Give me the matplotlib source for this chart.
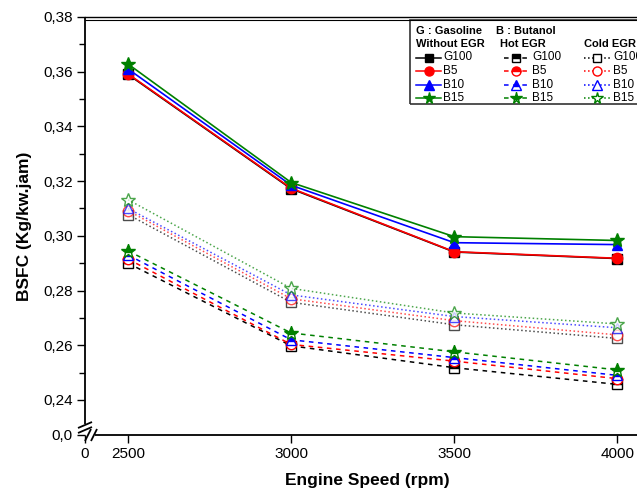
import numpy as np
import matplotlib
matplotlib.use("Agg")
import matplotlib.pyplot as plt
from matplotlib.lines import Line2D
from matplotlib.patches import Rectangle

plt.rcParams['font.family'] = ['Liberation Sans', 'DejaVu Sans']

# engine speed (rpm) and BSFC (kg/kW.h) for each fuel / EGR mode
rpm = [2500, 3000, 3500, 4000]
fuels = ['G100', 'B5', 'B10', 'B15']

no_egr = {
    'G100': [0.3590, 0.3172, 0.2941, 0.2917],
    'B5':   [0.3592, 0.3174, 0.2942, 0.2918],
    'B10':  [0.3610, 0.3185, 0.2975, 0.2968],
    'B15':  [0.3628, 0.3195, 0.2997, 0.2983],
}
hot_egr = {
    'G100': [0.2900, 0.2598, 0.2518, 0.2457],
    'B5':   [0.2915, 0.2603, 0.2542, 0.2478],
    'B10':  [0.2930, 0.2620, 0.2555, 0.2490],
    'B15':  [0.2945, 0.2645, 0.2576, 0.2510],
}
cold_egr = {
    'G100': [0.3078, 0.2757, 0.2675, 0.2625],
    'B5':   [0.3092, 0.2770, 0.2690, 0.2638],
    'B10':  [0.3100, 0.2784, 0.2705, 0.2664],
    'B15':  [0.3132, 0.2808, 0.2718, 0.2678],
}

colors = {'G100': 'black', 'B5': '#ff0000', 'B10': '#0000ff', 'B15': '#008000'}
markers = {'G100': 's', 'B5': 'o', 'B10': '^', 'B15': '*'}
msize = {'G100': 6.5, 'B5': 7.5, 'B10': 7.5, 'B15': 10}

xticks = [0, 2500, 3000, 3500, 4000]
xticklabels = ['0', '2500', '3000', '3500', '4000']
yticks = [0.0, 0.24, 0.26, 0.28, 0.30, 0.32, 0.34, 0.36, 0.38]
yticklabels = ['0,0', '0,24', '0,26', '0,28', '0,30', '0,32', '0,34', '0,36', '0,38']

# broken axes: squeeze 0..2500 rpm and 0..0.24 into short stubs
XB, KX = 2500.0, 132.0 / 2500.0
YB, KY = 0.24, 0.0128 / 0.24


def fx(x):
    x = np.asarray(x, dtype=float)
    return np.where(x >= XB, x, XB - (XB - x) * KX)


def ix(x):
    x = np.asarray(x, dtype=float)
    return np.where(x >= XB, x, XB - (XB - x) / KX)


def fy(y):
    y = np.asarray(y, dtype=float)
    return np.where(y >= YB, y, YB - (YB - y) * KY)


def iy(y):
    y = np.asarray(y, dtype=float)
    return np.where(y >= YB, y, YB - (YB - y) / KY)


W, H = 637, 493
fig = plt.figure(figsize=(W / 100, H / 100), dpi=100)


def px(x, y):
    return x / W, 1 - y / H


L, T, B, R = 85, 17, 435, 650
ax = fig.add_axes([L / W, 1 - B / H, (R - L) / W, (B - T) / H])
ax.set_xscale('function', functions=(fx, ix))
ax.set_yscale('function', functions=(fy, iy))

for f in fuels:
    ax.plot(rpm, cold_egr[f], ls=':', lw=1.1, color=colors[f], alpha=0.7,
            marker=markers[f], ms=msize[f], mfc='white', mec=colors[f], mew=1)
for f in fuels:
    ax.plot(rpm, hot_egr[f], ls=(0, (3, 3)), lw=1.1, color=colors[f],
            marker=markers[f], ms=msize[f], fillstyle='top', mfcalt='white',
            mec=colors[f], mew=1)
for f in fuels:
    ax.plot(rpm, no_egr[f], ls='-', lw=1.2, color=colors[f],
            marker=markers[f], ms=msize[f], mec=colors[f])

ax.set_xlim(0, 4100)
ax.set_ylim(0.0, 0.38)
ax.set_xticks(xticks)
ax.set_xticklabels(xticklabels)
ax.set_yticks(yticks)
ax.set_yticklabels(yticklabels)
ax.set_yticks(np.arange(0.25, 0.38, 0.02), minor=True)
ax.set_xticks([], minor=True)
ax.tick_params(axis='both', which='major', direction='out', length=6, width=1,
               labelsize=11, pad=3)
ax.tick_params(axis='y', which='minor', direction='out', length=4, width=1)

for s in ['left', 'bottom', 'right']:
    ax.spines[s].set_visible(False)
ax.spines['top'].set_linewidth(1)

ax.set_xlabel('Engine Speed (rpm)', fontsize=12.5, fontweight='bold', labelpad=8)
ax.set_ylabel('BSFC (Kg/kw.jam)', fontsize=12.5, fontweight='bold', labelpad=8)


def seg(x0, y0, x1, y1, lw=1.3):
    (a, b), (c, d) = px(x0, y0), px(x1, y1)
    fig.add_artist(Line2D([a, c], [b, d], transform=fig.transFigure,
                          color='black', lw=lw, solid_capstyle='butt'))


# axis lines with break marks
seg(L, T, L, 424)
seg(95, B, R, B)
seg(L, T + 2.5, R, T + 2.5, lw=0.8)
for yb in (425, 430):
    seg(78, yb + 3, 92, yb - 3)
for xb in (88, 94):
    seg(xb - 3, 441, xb + 3, 429)

# legend box
x0, y0 = px(410.5, 104)
fig.add_artist(Rectangle((x0, y0), (R - 410.5) / W, (104 - 20) / H,
                         transform=fig.transFigure, fill=False,
                         edgecolor='#333333', lw=1.2))

hdr = dict(fontsize=8, fontweight='bold', va='center', ha='left',
           transform=fig.transFigure)
fig.text(*px(416, 31), 'G : Gasoline', **hdr)
fig.text(*px(496, 31), 'B : Butanol', **hdr)
fig.text(*px(416, 44), 'Without EGR', **hdr)
fig.text(*px(500, 44), 'Hot EGR', **hdr)
fig.text(*px(584, 44), 'Cold EGR', **hdr)

rows = [57.5, 71, 84.5, 98]
cols = [
    (416, 441, 428.5, 443.5, '-', {}),
    (504, 528, 516, 532, (0, (3, 3)), {'fillstyle': 'top', 'markerfacecoloralt': 'white'}),
    (584, 610, 597, 613, ':', {'markerfacecolor': 'white'}),
]
lms = {'G100': 5.5, 'B5': 6.5, 'B10': 6.5, 'B15': 8.5}
for xa, xb_, xm, xt, ls, mk in cols:
    for f, yr in zip(fuels, rows):
        a, b = px(xa, yr)
        c, _ = px(xb_, yr)
        fig.add_artist(Line2D([a, c], [b, b], transform=fig.transFigure,
                              color=colors[f], lw=1.1, ls=ls))
        m, _ = px(xm, yr)
        fig.add_artist(Line2D([m], [b], transform=fig.transFigure,
                              color=colors[f], marker=markers[f], ms=lms[f],
                              mec=colors[f], mew=1, ls='none', **mk))
        fig.text(*px(xt, yr), f, fontsize=8.5, va='center', ha='left',
                 transform=fig.transFigure)

fig.savefig('out.png', dpi=100)
